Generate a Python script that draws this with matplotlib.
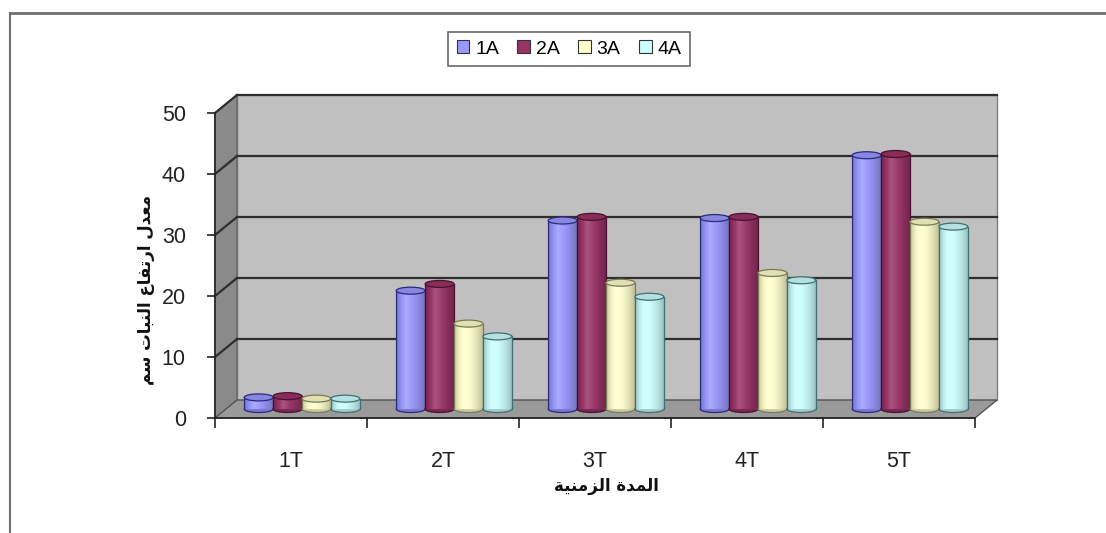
import matplotlib
matplotlib.use('Agg')
import matplotlib.pyplot as plt
import numpy as np
from matplotlib.patches import Polygon, Ellipse, Rectangle, Patch
from matplotlib.lines import Line2D
from matplotlib.colors import to_rgb

# ---------------- data ----------------
categories = ['1T', '2T', '3T', '4T', '5T']
series = ['1A', '2A', '3A', '4A']
a1 = [1.9, 19.4, 30.9, 31.3, 41.6]
a2 = [2.1, 20.5, 31.5, 31.5, 41.8]
a3 = [1.7, 14.0, 20.7, 22.3, 30.7]
a4 = [1.7, 11.9, 18.4, 21.1, 29.9]
values = [a1, a2, a3, a4]
yticks = [0, 10, 20, 30, 40, 50]
colors = ['#9999FF', '#993366', '#FFFFCC', '#CCFFFF']
edges = ['#2a2a80', '#4a1030', '#7a7a55', '#3f7070']
ylabel_ar = 'معدل ارتفاع النبات سم'
xlabel_ar = 'المدة الزمنية'

# ------------- minimal Arabic shaping (presentation forms, visual order) -------------
FORMS = {
    'ا': ('\uFE8D', '\uFE8E'),
    'ب': ('\uFE8F', '\uFE90', '\uFE91', '\uFE92'),
    'ة': ('\uFE93', '\uFE94'),
    'ت': ('\uFE95', '\uFE96', '\uFE97', '\uFE98'),
    'د': ('\uFEA9', '\uFEAA'),
    'ر': ('\uFEAD', '\uFEAE'),
    'ز': ('\uFEAF', '\uFEB0'),
    'س': ('\uFEB1', '\uFEB2', '\uFEB3', '\uFEB4'),
    'ع': ('\uFEC9', '\uFECA', '\uFECB', '\uFECC'),
    'ف': ('\uFED1', '\uFED2', '\uFED3', '\uFED4'),
    'ل': ('\uFEDD', '\uFEDE', '\uFEDF', '\uFEE0'),
    'م': ('\uFEE1', '\uFEE2', '\uFEE3', '\uFEE4'),
    'ن': ('\uFEE5', '\uFEE6', '\uFEE7', '\uFEE8'),
    'ي': ('\uFEF1', '\uFEF2', '\uFEF3', '\uFEF4'),
}


def shape(text):
    out = []
    for i, ch in enumerate(text):
        if ch not in FORMS:
            out.append(ch)
            continue
        prev = text[i - 1] if i > 0 else None
        nxt = text[i + 1] if i + 1 < len(text) else None
        con_prev = prev in FORMS and len(FORMS[prev]) == 4
        con_next = len(FORMS[ch]) == 4 and nxt in FORMS
        f = FORMS[ch]
        if con_prev and con_next:
            out.append(f[3])
        elif con_prev:
            out.append(f[1])
        elif con_next:
            out.append(f[2])
        else:
            out.append(f[0])
    return ''.join(out)[::-1]


plt.rcParams['font.family'] = ['Liberation Sans', 'DejaVu Sans']

W, H = 1106, 533
fig = plt.figure(figsize=(W / 100, H / 100), dpi=100)
fig.patch.set_facecolor('white')

# front plane of the 3-D box
ax = fig.add_axes([215 / W, 1 - 418 / H, 760 / W, 305 / H])
ax.set_xlim(-0.5, len(categories) - 0.5)
ax.set_ylim(0, 50)
ax.patch.set_visible(False)
for s in ['top', 'right']:
    ax.spines[s].set_visible(False)
for s in ['left', 'bottom']:
    ax.spines[s].set_color('#222222')
    ax.spines[s].set_linewidth(1.2)
    ax.spines[s].set_zorder(10)

dx = 22 / 152          # depth offset (category units)
dy = 18 * 50 / 305     # depth offset (value units)
x0, x1 = -0.5, len(categories) - 0.5
ytop = 50

# walls and floor
ax.add_patch(Polygon([(x0 + dx, dy), (x1 + dx, dy), (x1 + dx, ytop + dy), (x0 + dx, ytop + dy)],
                     closed=True, fc='#c0c0c0', ec='#808080', lw=1, clip_on=False, zorder=0))
ax.add_patch(Polygon([(x0, 0), (x0 + dx, dy), (x0 + dx, ytop + dy), (x0, ytop)],
                     closed=True, fc='#8a8a8a', ec='#666666', lw=1, clip_on=False, zorder=0.5))
ax.add_patch(Polygon([(x0, 0), (x1, 0), (x1 + dx, dy), (x0 + dx, dy)],
                     closed=True, fc='#9a9a9a', ec='#555555', lw=1, clip_on=False, zorder=0.6))

# gridlines
for v in yticks:
    if v == 0:
        continue
    ax.add_line(Line2D([x0 + dx, x1 + dx], [v + dy, v + dy], color='#2e2e2e', lw=1.6,
                       clip_on=False, zorder=0.8))
    ax.add_line(Line2D([x0, x0 + dx], [v, v + dy], color='#2e2e2e', lw=1.6,
                       clip_on=False, zorder=0.8))

# cylinders
bw = 0.19
eh = 7 * 50 / 305
nser = len(series)


def gradient(c, n=60):
    rgb = np.array(to_rgb(c))
    t = np.linspace(0, 1, n)
    s = np.where(t < 0.35, (0.35 - t) / 0.35, (t - 0.35) / 0.65)
    col = rgb[None, :] * (1 - 0.25 * s[:, None] ** 2)
    hl = 0.18 * (1 - s[:, None]) ** 3
    col = col * (1 - hl) + hl
    return np.clip(col, 0, 1)[None, :, :]


for i, (vals, c, e) in enumerate(zip(values, colors, edges)):
    xs = np.arange(len(categories)) + dx / 2 + (i - (nser - 1) / 2) * bw
    z = 3 + i * 0.1
    bars = ax.bar(xs, vals, width=bw, bottom=dy / 2, color=c, edgecolor='none', zorder=z)
    g = gradient(c)
    rgb = np.array(to_rgb(c))
    for rect in bars:
        bx, by = rect.get_x(), rect.get_y()
        w, h = rect.get_width(), rect.get_height()
        xc = bx + w / 2
        ax.add_patch(Ellipse((xc, by), w, eh, fc=rgb * 0.8, ec=e, lw=0.9, zorder=z - 0.05))
        ax.imshow(g, extent=(bx, bx + w, by, by + h), aspect='auto', zorder=z + 0.01,
                  interpolation='bilinear')
        ax.add_line(Line2D([bx, bx], [by, by + h], color=e, lw=0.9, zorder=z + 0.02))
        ax.add_line(Line2D([bx + w, bx + w], [by, by + h], color=e, lw=0.9, zorder=z + 0.02))
        ax.add_patch(Ellipse((xc, by + h), w, eh, fc=np.clip(rgb * 0.88, 0, 1), ec=e, lw=0.9,
                             zorder=z + 0.03))

ax.set_xlim(x0, x1)
ax.set_ylim(0, 50)

# ticks
ax.set_yticks(yticks)
ax.set_yticklabels([str(v) for v in yticks])
ax.tick_params(axis='y', direction='out', length=6, width=1.2, color='#222222',
               labelsize=15.5, pad=15, labelcolor='#222222')
ax.set_xticks(np.arange(len(categories) + 1) - 0.5)
ax.set_xticklabels([''] * (len(categories) + 1))
ax.tick_params(axis='x', which='major', direction='out', length=7, width=1.2, color='#222222')
ax.set_xticks(np.arange(len(categories)), minor=True)
ax.set_xticklabels(categories, minor=True)
ax.tick_params(axis='x', which='minor', length=0, labelsize=15.5, pad=24, labelcolor='#222222')

# axis titles (Arabic)
fig.text(146 / W, 1 - 290 / H, shape(ylabel_ar), rotation=90, ha='center', va='center',
         fontsize=12, fontweight='bold', family=['DejaVu Sans'], color='#111111')
fig.text(606 / W, 1 - 486 / H, shape(xlabel_ar), ha='center', va='center',
         fontsize=12, fontweight='bold', family=['DejaVu Sans'], color='#111111')

# legend
handles = [Patch(facecolor=c, edgecolor='#333333', lw=0.8) for c in colors]
leg = fig.legend(handles, series, loc='center', bbox_to_anchor=(569 / W, 1 - 49 / H), ncol=4,
                 frameon=True, fancybox=False, edgecolor='#444444', fontsize=14,
                 handlelength=0.65, handleheight=0.65, handletextpad=0.3, columnspacing=0.95,
                 borderpad=0.45, borderaxespad=0)
leg.get_frame().set_linewidth(1.2)

# outer chart-area border (top and left edges visible)
fig.add_artist(Line2D([10 / W, 1], [1 - 13 / H, 1 - 13 / H], transform=fig.transFigure,
                      color='#707070', lw=2))
fig.add_artist(Line2D([10 / W, 10 / W], [0, 1 - 13 / H], transform=fig.transFigure,
                      color='#707070', lw=1.5))

fig.savefig('out.png', dpi=100)
